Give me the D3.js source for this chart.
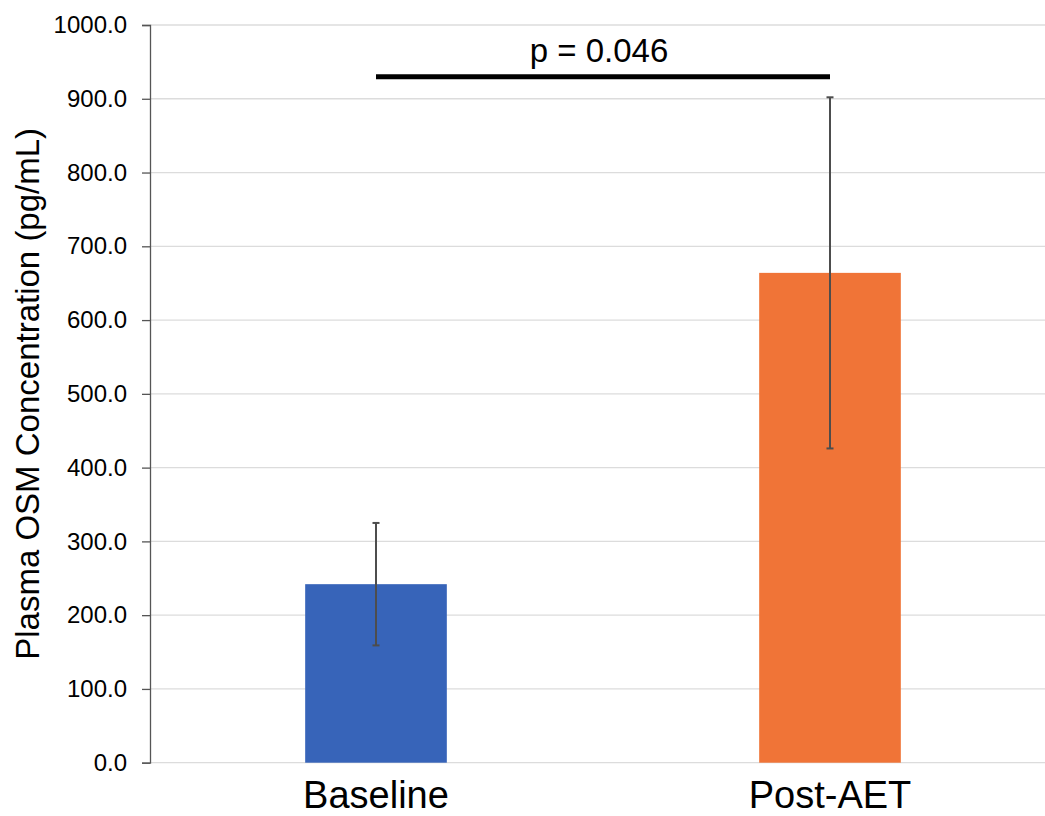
<!DOCTYPE html>
<html>
<head>
<meta charset="utf-8">
<script src="https://cdn.jsdelivr.net/npm/d3@7"></script>
<style>
  html, body { margin: 0; padding: 0; background: #fff; }
  svg { display: block; }
  text { font-family: "Liberation Sans", Arial, Helvetica, sans-serif; fill: #000; }
</style>
</head>
<body>
<svg id="chart" width="1045" height="816"></svg>
<script>
// Plasma OSM concentration, mean ± error, before and after training
const groups = ["Baseline", "Post-AET"];
const means = [242, 664];
const errors = [83, 238];
const barColors = ["#3764B9", "#F07437"];
const yTicks = [0, 100, 200, 300, 400, 500, 600, 700, 800, 900, 1000];
const pLabel = "p = 0.046";
const yTitle = "Plasma OSM Concentration (pg/mL)";

const svg = d3.select("#chart");
const W = 1045, H = 816;
const plotLeft = 150, plotTop = 25, plotBottom = 762.7;

const x = d3.scaleBand()
  .domain(groups)
  .range([149, 1057])
  .paddingInner(0.688)
  .paddingOuter(0.344);

const y = d3.scaleLinear().domain([0, 1000]).range([plotBottom, plotTop]);

// horizontal gridlines
svg.append("g")
  .selectAll("line")
  .data(yTicks)
  .join("line")
  .attr("x1", plotLeft).attr("x2", W)
  .attr("y1", d => y(d)).attr("y2", d => y(d))
  .attr("stroke", "#dcdcdc")
  .attr("stroke-width", 1.3);

// y axis
const yAxis = svg.append("g")
  .attr("transform", `translate(${plotLeft},0)`)
  .call(d3.axisLeft(y).tickValues(yTicks).tickFormat(d3.format(".1f")).tickSize(8).tickPadding(15));
yAxis.select(".domain").attr("stroke", "#555").attr("stroke-width", 1.3);
yAxis.selectAll(".tick line").attr("stroke", "#555").attr("stroke-width", 1.3);
yAxis.selectAll(".tick text")
  .attr("font-size", 24)
  .attr("fill", "#000")
  .style("font-family", '"Liberation Sans", Arial, Helvetica, sans-serif');

// bars
svg.append("g")
  .selectAll("rect")
  .data(groups)
  .join("rect")
  .attr("x", d => x(d))
  .attr("width", x.bandwidth())
  .attr("y", (d, i) => y(means[i]))
  .attr("height", (d, i) => y(0) - y(means[i]))
  .attr("fill", (d, i) => barColors[i]);

// error bars
const eb = svg.append("g").attr("stroke", "#4d4d4d").attr("stroke-width", 2);
groups.forEach((g, i) => {
  const cx = x(g) + x.bandwidth() / 2;
  const hi = y(means[i] + errors[i]);
  const lo = y(means[i] - errors[i]);
  eb.append("line").attr("x1", cx).attr("x2", cx).attr("y1", hi).attr("y2", lo);
  eb.append("line").attr("x1", cx - 3.5).attr("x2", cx + 3.5).attr("y1", hi).attr("y2", hi);
  eb.append("line").attr("x1", cx - 3.5).attr("x2", cx + 3.5).attr("y1", lo).attr("y2", lo);
});

// category labels
svg.append("g")
  .selectAll("text")
  .data(groups)
  .join("text")
  .attr("x", d => x(d) + x.bandwidth() / 2)
  .attr("y", 808)
  .attr("text-anchor", "middle")
  .attr("font-size", 38)
  .text(d => d);

// y axis title
svg.append("text")
  .attr("transform", `translate(39,${(plotTop + plotBottom) / 2}) rotate(-90)`)
  .attr("text-anchor", "middle")
  .attr("font-size", 33)
  .text(yTitle);

// significance bracket
const c0 = x(groups[0]) + x.bandwidth() / 2;
const c1 = x(groups[1]) + x.bandwidth() / 2;
svg.append("line")
  .attr("x1", c0).attr("x2", c1)
  .attr("y1", 76.7).attr("y2", 76.7)
  .attr("stroke", "#000")
  .attr("stroke-width", 5);
svg.append("text")
  .attr("x", (c0 + c1) / 2 - 4)
  .attr("y", 61.5)
  .attr("text-anchor", "middle")
  .attr("font-size", 33)
  .text(pLabel);
</script>
</body>
</html>
